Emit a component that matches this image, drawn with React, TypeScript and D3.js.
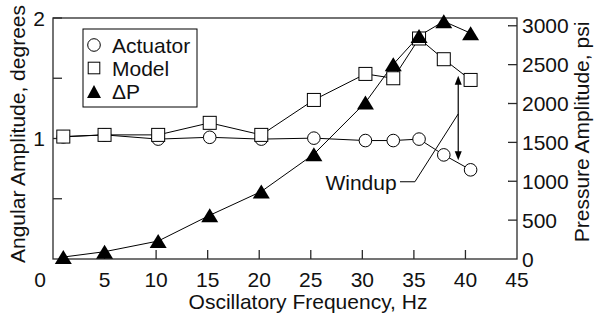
import React from "react";
import * as d3 from "d3";

// frequency (Hz) shared by all three series
const frequency = [1.0, 5.0, 10.2, 15.2, 20.2, 25.3, 30.3, 33.0, 35.5, 37.9, 40.5];
// angular amplitude, degrees
const actuator = [1.014, 1.03, 0.995, 1.01, 0.995, 1.003, 0.983, 0.983, 0.995, 0.864, 0.74];
const model = [1.016, 1.03, 1.03, 1.13, 1.03, 1.32, 1.536, 1.5, 1.83, 1.658, 1.486];
// pressure amplitude, psi
const deltaP = [25, 94, 231, 562, 868, 1349, 2013, 2505, 2869, 3057, 2905];

const xTicks = [0, 5, 10, 15, 20, 25, 30, 35, 40, 45];
const leftTicks = [0.5, 1, 1.5, 2];
const leftLabels = [1, 2];
const rightTicks = [0, 500, 1000, 1500, 2000, 2500, 3000];

// windup annotation (Hz, degrees)
const windupArrow = { x: 39.3, top: 1.52, bottom: 0.82 };
const windupLeader: [number, number][] = [
    [33.65, 0.641],
    [35.1, 0.641],
    [39.3, 1.204],
];
const windupText = { x: 33.33, y: 0.574, label: "Windup" };

const W = 594;
const H = 318;
const margin = { top: 18, right: 77, bottom: 59, left: 53 };
const FONT = "'Liberation Sans', Arial, sans-serif";
const AXIS = "#2a2a2a";

function triPath(cx: number, cy: number, w: number, h: number) {
    return `M${cx},${cy - h / 2}L${cx + w / 2},${cy + h / 2}L${cx - w / 2},${cy + h / 2}Z`;
}

function arrowHead(cx: number, tipY: number, dir: number) {
    // dir -1 points up, 1 points down
    const len = 9;
    const half = 3.5;
    return `M${cx},${tipY}L${cx + half},${tipY - dir * len}L${cx - half},${tipY - dir * len}Z`;
}

export default function App() {
    const x = d3.scaleLinear().domain([0, 45]).range([margin.left, W - margin.right]);
    const yDeg = d3.scaleLinear().domain([0, 2]).range([H - margin.bottom, margin.top]);
    const yPsi = d3.scaleLinear().domain([0, 3100]).range([H - margin.bottom, margin.top]);

    const left = margin.left;
    const right = W - margin.right;
    const top = margin.top;
    const bottom = H - margin.bottom;
    const tick = 9;

    const lineDeg = d3
        .line<number>()
        .x((_, i) => x(frequency[i]))
        .y((d) => yDeg(d));
    const linePsi = d3
        .line<number>()
        .x((_, i) => x(frequency[i]))
        .y((d) => yPsi(d));

    const leader = d3
        .line<[number, number]>()
        .x((d) => x(d[0]))
        .y((d) => yDeg(d[1]));

    return (
        <svg
            width={W}
            height={H}
            style={{ position: "absolute", left: 0, top: 0, background: "#fff" }}
            fontFamily={FONT}
            fontSize={21}
        >
            {/* frame */}
            <rect
                x={left}
                y={top}
                width={right - left}
                height={bottom - top}
                fill="none"
                stroke={AXIS}
                strokeWidth={1.3}
            />

            {/* bottom axis */}
            {xTicks.map((t) => (
                <g key={"x" + t}>
                    {t > 0 && t < 45 && (
                        <line x1={x(t)} x2={x(t)} y1={bottom} y2={bottom - tick} stroke={AXIS} strokeWidth={1.3} />
                    )}
                    <text x={x(t) + (t === 0 ? -13 : 0)} y={286.5} textAnchor="middle" fill="#111">
                        {t}
                    </text>
                </g>
            ))}
            <text x={308} y={309} textAnchor="middle" fill="#111">
                Oscillatory Frequency, Hz
            </text>

            {/* left axis */}
            {leftTicks.map((t) => (
                <line key={"l" + t} x1={left} x2={left + tick} y1={yDeg(t)} y2={yDeg(t)} stroke={AXIS} strokeWidth={1.3} />
            ))}
            {leftLabels.map((t) => (
                <text key={"ll" + t} x={45} y={yDeg(t) + 7.5} textAnchor="end" fill="#111">
                    {t}
                </text>
            ))}
            <text transform={`translate(25, 134) rotate(-90)`} textAnchor="middle" fill="#111">
                Angular Amplitude, degrees
            </text>

            {/* right axis */}
            {rightTicks.map((t) => (
                <g key={"r" + t}>
                    {t > 0 && (
                        <line x1={right - tick} x2={right} y1={yPsi(t)} y2={yPsi(t)} stroke={AXIS} strokeWidth={1.3} />
                    )}
                    <text x={right + 5} y={yPsi(t) + 7.5} fill="#111">
                        {t}
                    </text>
                </g>
            ))}
            <text transform={`translate(589, 132) rotate(-90)`} textAnchor="middle" fill="#111">
                Pressure Amplitude, psi
            </text>

            {/* series lines */}
            <path d={lineDeg(actuator) || ""} fill="none" stroke="#000" strokeWidth={1} />
            <path d={lineDeg(model) || ""} fill="none" stroke="#000" strokeWidth={1} />
            <path d={linePsi(deltaP) || ""} fill="none" stroke="#000" strokeWidth={1} />

            {/* windup annotation */}
            <path d={leader(windupLeader) || ""} fill="none" stroke="#000" strokeWidth={1} />
            <line
                x1={x(windupArrow.x)}
                x2={x(windupArrow.x)}
                y1={yDeg(windupArrow.top) + 4}
                y2={yDeg(windupArrow.bottom) - 4}
                stroke="#000"
                strokeWidth={1.2}
            />
            <path d={arrowHead(x(windupArrow.x), yDeg(windupArrow.top), -1)} fill="#000" />
            <path d={arrowHead(x(windupArrow.x), yDeg(windupArrow.bottom), 1)} fill="#000" />
            <text x={x(windupText.x)} y={yDeg(windupText.y)} textAnchor="end" fill="#111">
                {windupText.label}
            </text>

            {/* markers */}
            {actuator.map((d, i) => (
                <circle key={"c" + i} cx={x(frequency[i])} cy={yDeg(d)} r={6.3} fill="#fff" stroke="#000" strokeWidth={1} />
            ))}
            {model.map((d, i) => (
                <rect
                    key={"s" + i}
                    x={x(frequency[i]) - 6.5}
                    y={yDeg(d) - 6.5}
                    width={13}
                    height={13}
                    fill="#fff"
                    stroke="#000"
                    strokeWidth={1}
                />
            ))}
            {deltaP.map((d, i) => (
                <path key={"t" + i} d={triPath(x(frequency[i]), yPsi(d), 17, 14)} fill="#000" />
            ))}

            {/* legend */}
            <rect x={83} y={29} width={114} height={78} fill="#fff" stroke="#000" strokeWidth={1} />
            <circle cx={94} cy={45} r={6.3} fill="#fff" stroke="#000" strokeWidth={1} />
            <text x={112} y={52.5} fill="#111">Actuator</text>
            <rect x={88.2} y={62.2} width={11.6} height={11.6} fill="#fff" stroke="#000" strokeWidth={1} />
            <text x={112} y={75.5} fill="#111">Model</text>
            <path d={triPath(94, 91.5, 14, 13)} fill="#000" />
            <text x={112} y={98.5} fill="#111">ΔP</text>
        </svg>
    );
}
